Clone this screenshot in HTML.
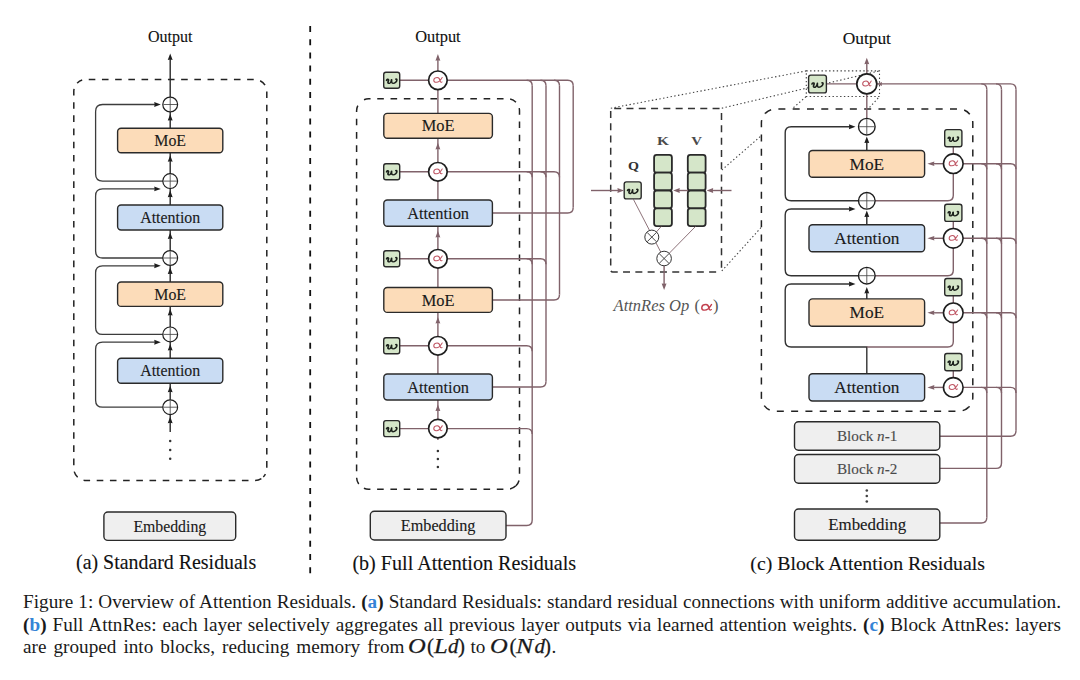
<!DOCTYPE html>
<html><head><meta charset="utf-8"><style>
html,body{margin:0;padding:0;background:#fff;}
body{width:1080px;height:680px;position:relative;overflow:hidden;font-family:"Liberation Serif", serif;}
svg{position:absolute;left:0;top:0;}
svg text{font-family:"Liberation Serif", serif;stroke-width:0.12px;}
.cap{position:absolute;left:23.1px;width:1037.9px;font-size:19.2px;line-height:22.4px;color:#1a1a1a;white-space:nowrap;}
.j{text-align:justify;text-align-last:justify;white-space:nowrap;}
.b{font-weight:bold;}
.bl{color:#3584d6;font-weight:bold;}
.m{font-style:italic;}
.mm{top:634.9px;font-size:21px;-webkit-text-stroke:0.25px #1a1a1a;}
.mo{font-size:21px;top:634.9px;transform:scaleX(1.17);transform-origin:left;}
</style></head><body>
<svg width="1080" height="680" viewBox="0 0 1080 680">
<path d="M 77.31 83.01 A 12 12 0 0 1 85.80 79.50 H 254.80 A 12 12 0 0 1 266.80 91.50 V 468.50 A 12 12 0 0 1 263.29 476.99" fill="none" stroke="#222" stroke-width="1.5" stroke-dasharray="6.6 6.6" stroke-dashoffset="0.9"/>
<path d="M 77.31 83.01 A 12 12 0 0 0 73.80 91.50 V 468.50 A 12 12 0 0 0 85.80 480.50 H 254.80 A 12 12 0 0 0 263.29 476.99" fill="none" stroke="#222" stroke-width="1.5" stroke-dasharray="6.6 6.6" stroke-dashoffset="6.4"/>
<text x="170.2" y="41.7" font-size="16" text-anchor="middle" fill="#111" stroke="#111" >Output</text>
<line x1="170.2" y1="57" x2="170.2" y2="432" stroke="#2a2a2a" stroke-width="1.4" />
<polygon points="170.20,53.40 167.75,60.00 170.20,59.54 172.65,60.00" fill="#1e1e1e" stroke="none"/>
<polygon points="170.20,114.00 167.75,120.60 170.20,120.14 172.65,120.60" fill="#1e1e1e" stroke="none"/>
<polygon points="170.20,190.60 167.75,197.20 170.20,196.74 172.65,197.20" fill="#1e1e1e" stroke="none"/>
<polygon points="170.20,267.50 167.75,274.10 170.20,273.64 172.65,274.10" fill="#1e1e1e" stroke="none"/>
<polygon points="170.20,343.90 167.75,350.50 170.20,350.04 172.65,350.50" fill="#1e1e1e" stroke="none"/>
<polygon points="170.20,416.70 167.75,423.30 170.20,422.84 172.65,423.30" fill="#1e1e1e" stroke="none"/>
<polygon points="170.20,155.20 167.75,161.80 170.20,161.34 172.65,161.80" fill="#1e1e1e" stroke="none"/>
<polygon points="170.20,232.40 167.75,239.00 170.20,238.54 172.65,239.00" fill="#1e1e1e" stroke="none"/>
<polygon points="170.20,308.80 167.75,315.40 170.20,314.94 172.65,315.40" fill="#1e1e1e" stroke="none"/>
<polygon points="170.20,385.70 167.75,392.30 170.20,391.84 172.65,392.30" fill="#1e1e1e" stroke="none"/>
<path d="M 170.2 181.1 H 102.6 Q 95.6 181.1 95.6 174.1 V 111.5 Q 95.6 104.5 102.6 104.5 H 157" stroke="#3c3c3c" stroke-width="1.3" fill="none" />
<polygon points="160.80,104.50 154.20,102.05 154.66,104.50 154.20,106.95" fill="#1e1e1e" stroke="none"/>
<path d="M 170.2 258.0 H 102.6 Q 95.6 258.0 95.6 251.0 V 195.9 Q 95.6 188.9 102.6 188.9 H 157" stroke="#3c3c3c" stroke-width="1.3" fill="none" />
<polygon points="160.80,188.90 154.20,186.45 154.66,188.90 154.20,191.35" fill="#1e1e1e" stroke="none"/>
<path d="M 170.2 334.4 H 102.6 Q 95.6 334.4 95.6 327.4 V 272.8 Q 95.6 265.8 102.6 265.8 H 157" stroke="#3c3c3c" stroke-width="1.3" fill="none" />
<polygon points="160.80,265.80 154.20,263.35 154.66,265.80 154.20,268.25" fill="#1e1e1e" stroke="none"/>
<path d="M 170.2 407.2 H 102.6 Q 95.6 407.2 95.6 400.2 V 349.2 Q 95.6 342.2 102.6 342.2 H 157" stroke="#3c3c3c" stroke-width="1.3" fill="none" />
<polygon points="160.80,342.20 154.20,339.75 154.66,342.20 154.20,344.65" fill="#1e1e1e" stroke="none"/>
<rect x="117.6" y="128.3" width="105.20" height="24.50" rx="3.5" fill="#fcdcb9" stroke="#2a2a2a" stroke-width="1.4"/>
<text x="170.20" y="145.96" font-size="15.9" text-anchor="middle" fill="#1a1a1a" stroke="#1a1a1a">MoE</text>
<rect x="117.6" y="205.0" width="105.20" height="25.00" rx="3.5" fill="#c9dcf3" stroke="#2a2a2a" stroke-width="1.4"/>
<text x="170.20" y="222.91" font-size="15.9" text-anchor="middle" fill="#1a1a1a" stroke="#1a1a1a">Attention</text>
<rect x="117.6" y="282.0" width="105.20" height="24.40" rx="3.5" fill="#fcdcb9" stroke="#2a2a2a" stroke-width="1.4"/>
<text x="170.20" y="299.61" font-size="15.9" text-anchor="middle" fill="#1a1a1a" stroke="#1a1a1a">MoE</text>
<rect x="117.6" y="358.3" width="105.20" height="25.00" rx="3.5" fill="#c9dcf3" stroke="#2a2a2a" stroke-width="1.4"/>
<text x="170.20" y="376.21" font-size="15.9" text-anchor="middle" fill="#1a1a1a" stroke="#1a1a1a">Attention</text>
<circle cx="170.2" cy="104.5" r="7.4" fill="#fff" stroke="#1e1e1e" stroke-width="1.2"/>
<line x1="163.39999999999998" y1="104.5" x2="177.0" y2="104.5" stroke="#444" stroke-width="0.85" />
<line x1="170.2" y1="97.7" x2="170.2" y2="111.3" stroke="#444" stroke-width="0.85" />
<circle cx="170.2" cy="181.1" r="7.4" fill="#fff" stroke="#1e1e1e" stroke-width="1.2"/>
<line x1="163.39999999999998" y1="181.1" x2="177.0" y2="181.1" stroke="#444" stroke-width="0.85" />
<line x1="170.2" y1="174.29999999999998" x2="170.2" y2="187.9" stroke="#444" stroke-width="0.85" />
<circle cx="170.2" cy="258.0" r="7.4" fill="#fff" stroke="#1e1e1e" stroke-width="1.2"/>
<line x1="163.39999999999998" y1="258.0" x2="177.0" y2="258.0" stroke="#444" stroke-width="0.85" />
<line x1="170.2" y1="251.2" x2="170.2" y2="264.8" stroke="#444" stroke-width="0.85" />
<circle cx="170.2" cy="334.4" r="7.4" fill="#fff" stroke="#1e1e1e" stroke-width="1.2"/>
<line x1="163.39999999999998" y1="334.4" x2="177.0" y2="334.4" stroke="#444" stroke-width="0.85" />
<line x1="170.2" y1="327.59999999999997" x2="170.2" y2="341.2" stroke="#444" stroke-width="0.85" />
<circle cx="170.2" cy="407.2" r="7.4" fill="#fff" stroke="#1e1e1e" stroke-width="1.2"/>
<line x1="163.39999999999998" y1="407.2" x2="177.0" y2="407.2" stroke="#444" stroke-width="0.85" />
<line x1="170.2" y1="400.4" x2="170.2" y2="414.0" stroke="#444" stroke-width="0.85" />
<circle cx="170.2" cy="441" r="1.25" fill="#333"/>
<circle cx="170.2" cy="449.9" r="1.25" fill="#333"/>
<circle cx="170.2" cy="458.7" r="1.25" fill="#333"/>
<rect x="103.9" y="512" width="131.80" height="28.40" rx="4" fill="#efefef" stroke="#2a2a2a" stroke-width="1.4"/>
<text x="169.80" y="531.57" font-size="15.8" text-anchor="middle" fill="#1a1a1a" stroke="#1a1a1a">Embedding</text>
<text x="166.1" y="569.4" font-size="19.9" text-anchor="middle" fill="#111" stroke="#111" >(a) Standard Residuals</text>
<line x1="310.2" y1="26" x2="310.2" y2="576" stroke="#111" stroke-width="1.8" stroke-dasharray="6 7.2"/>
<path d="M 360.11 102.31 A 12 12 0 0 1 368.60 98.80 H 507.50 A 12 12 0 0 1 519.50 110.80 V 477.20 A 12 12 0 0 1 515.99 485.69" fill="none" stroke="#222" stroke-width="1.5" stroke-dasharray="6.6 6.7" stroke-dashoffset="8.6"/>
<path d="M 360.11 102.31 A 12 12 0 0 0 356.60 110.80 V 477.20 A 12 12 0 0 0 368.60 489.20 H 507.50 A 12 12 0 0 0 515.99 485.69" fill="none" stroke="#222" stroke-width="1.5" stroke-dasharray="6.6 6.7" stroke-dashoffset="9.3"/>
<text x="437.9" y="42.4" font-size="16.4" text-anchor="middle" fill="#111" stroke="#111" >Output</text>
<line x1="437.9" y1="58" x2="437.9" y2="440" stroke="#80626a" stroke-width="1.4" />
<polygon points="437.90,54.10 435.45,60.70 437.90,60.24 440.35,60.70" fill="#80626a" stroke="none"/>
<polygon points="437.90,142.80 435.45,149.40 437.90,148.94 440.35,149.40" fill="#80626a" stroke="none"/>
<polygon points="437.90,230.80 435.45,237.40 437.90,236.94 440.35,237.40" fill="#80626a" stroke="none"/>
<polygon points="437.90,316.90 435.45,323.50 437.90,323.04 440.35,323.50" fill="#80626a" stroke="none"/>
<polygon points="437.90,404.50 435.45,411.10 437.90,410.64 440.35,411.10" fill="#80626a" stroke="none"/>
<line x1="532.2" y1="85.8" x2="532.2" y2="520.0" stroke="#80626a" stroke-width="1.4" />
<line x1="546.0" y1="85.8" x2="546.0" y2="381.5" stroke="#80626a" stroke-width="1.4" />
<line x1="559.5" y1="85.8" x2="559.5" y2="294.5" stroke="#80626a" stroke-width="1.4" />
<line x1="573.2" y1="85.8" x2="573.2" y2="207.5" stroke="#80626a" stroke-width="1.4" />
<path d="M 506 525.5 H 526.7 Q 532.2 525.5 532.2 520.0" stroke="#80626a" stroke-width="1.4" fill="none" />
<path d="M 492.3 387.0 H 540.5 Q 546.0 387.0 546.0 381.5" stroke="#80626a" stroke-width="1.4" fill="none" />
<path d="M 492.3 300.0 H 554.0 Q 559.5 300.0 559.5 294.5" stroke="#80626a" stroke-width="1.4" fill="none" />
<path d="M 492.5 213.0 H 567.7 Q 573.2 213.0 573.2 207.5" stroke="#80626a" stroke-width="1.4" fill="none" />
<path d="M 437.9 80.3 H 567.7 Q 573.2 80.3 573.2 85.8" stroke="#80626a" stroke-width="1.4" fill="none" />
<path d="M 526.7 80.3 Q 532.2 80.3 532.2 85.8" stroke="#80626a" stroke-width="1.4" fill="none" />
<path d="M 540.5 80.3 Q 546.0 80.3 546.0 85.8" stroke="#80626a" stroke-width="1.4" fill="none" />
<path d="M 554.0 80.3 Q 559.5 80.3 559.5 85.8" stroke="#80626a" stroke-width="1.4" fill="none" />
<line x1="399.8" y1="80.3" x2="437.9" y2="80.3" stroke="#80626a" stroke-width="1.4" />
<path d="M 437.9 171.8 H 554.0 Q 559.5 171.8 559.5 177.3" stroke="#80626a" stroke-width="1.4" fill="none" />
<path d="M 526.7 171.8 Q 532.2 171.8 532.2 177.3" stroke="#80626a" stroke-width="1.4" fill="none" />
<path d="M 540.5 171.8 Q 546.0 171.8 546.0 177.3" stroke="#80626a" stroke-width="1.4" fill="none" />
<line x1="399.8" y1="171.8" x2="437.9" y2="171.8" stroke="#80626a" stroke-width="1.4" />
<path d="M 437.9 258.8 H 540.5 Q 546.0 258.8 546.0 264.3" stroke="#80626a" stroke-width="1.4" fill="none" />
<path d="M 526.7 258.8 Q 532.2 258.8 532.2 264.3" stroke="#80626a" stroke-width="1.4" fill="none" />
<line x1="399.8" y1="258.8" x2="437.9" y2="258.8" stroke="#80626a" stroke-width="1.4" />
<path d="M 437.9 345.8 H 526.7 Q 532.2 345.8 532.2 351.3" stroke="#80626a" stroke-width="1.4" fill="none" />
<line x1="399.8" y1="345.8" x2="437.9" y2="345.8" stroke="#80626a" stroke-width="1.4" />
<path d="M 437.9 428.6 H 526.7 Q 532.2 428.6 532.2 434.1" stroke="#80626a" stroke-width="1.4" fill="none" />
<line x1="399.8" y1="428.6" x2="437.9" y2="428.6" stroke="#80626a" stroke-width="1.4" />
<rect x="383.8" y="113.4" width="108.60" height="24.90" rx="3.5" fill="#fcdcb9" stroke="#2a2a2a" stroke-width="1.4"/>
<text x="438.10" y="131.43" font-size="16.4" text-anchor="middle" fill="#1a1a1a" stroke="#1a1a1a">MoE</text>
<rect x="383.8" y="200.0" width="108.60" height="26.30" rx="3.5" fill="#c9dcf3" stroke="#2a2a2a" stroke-width="1.4"/>
<text x="438.10" y="218.73" font-size="16.4" text-anchor="middle" fill="#1a1a1a" stroke="#1a1a1a">Attention</text>
<rect x="383.8" y="287.5" width="108.60" height="24.90" rx="3.5" fill="#fcdcb9" stroke="#2a2a2a" stroke-width="1.4"/>
<text x="438.10" y="305.53" font-size="16.4" text-anchor="middle" fill="#1a1a1a" stroke="#1a1a1a">MoE</text>
<rect x="383.8" y="374.0" width="108.60" height="26.00" rx="3.5" fill="#c9dcf3" stroke="#2a2a2a" stroke-width="1.4"/>
<text x="438.10" y="392.58" font-size="16.4" text-anchor="middle" fill="#1a1a1a" stroke="#1a1a1a">Attention</text>
<circle cx="437.9" cy="80.3" r="9.3" fill="#fff" stroke="#1e1e1e" stroke-width="1.7"/>
<path d="M 4.6 -3.3 C 3.8 -0.8, 2.3 3.3, -1.2 3.3 C -3.6 3.3, -4.8 1.6, -4.8 -0.2 C -4.8 -2.2, -3.2 -3.3, -1.3 -3.3 C 1.2 -3.3, 2.0 -1.3, 2.8 1.3 C 3.2 2.6, 3.6 3.3, 4.3 3.3 C 4.7 3.3, 5.0 3.0, 5.2 2.7" transform="translate(437.90,79.90) skewX(-10) scale(0.850,0.740)" fill="none" stroke="#bf5664" stroke-width="1.31" stroke-linecap="round"/>
<rect x="383.7" y="72.3" width="16.00" height="16.00" rx="2.2" fill="#d5e6c9" stroke="#2a2a2a" stroke-width="1.4"/>
<path d="M -5.6 -1.0 C -5.2 -2.5, -3.6 -2.9, -3.4 -1.7 C -3.3 -0.9, -4.1 0.6, -4.1 1.5 C -4.1 2.7, -2.9 2.9, -2.0 2.5 C -1.0 2.0, -0.4 0.4, -0.1 -1.9 C -0.3 0.4, -0.2 2.7, 1.4 2.7 C 3.6 2.7, 5.6 0.4, 5.6 -1.6 C 5.6 -2.5, 5.0 -2.8, 4.5 -2.5" transform="translate(391.70,81.20) scale(0.920,0.800)" fill="none" stroke="#1a1f1a" stroke-width="1.80" stroke-linecap="round" stroke-linejoin="round"/>
<circle cx="437.9" cy="171.8" r="9.3" fill="#fff" stroke="#1e1e1e" stroke-width="1.7"/>
<path d="M 4.6 -3.3 C 3.8 -0.8, 2.3 3.3, -1.2 3.3 C -3.6 3.3, -4.8 1.6, -4.8 -0.2 C -4.8 -2.2, -3.2 -3.3, -1.3 -3.3 C 1.2 -3.3, 2.0 -1.3, 2.8 1.3 C 3.2 2.6, 3.6 3.3, 4.3 3.3 C 4.7 3.3, 5.0 3.0, 5.2 2.7" transform="translate(437.90,171.40) skewX(-10) scale(0.850,0.740)" fill="none" stroke="#bf5664" stroke-width="1.31" stroke-linecap="round"/>
<rect x="383.7" y="163.8" width="16.00" height="16.00" rx="2.2" fill="#d5e6c9" stroke="#2a2a2a" stroke-width="1.4"/>
<path d="M -5.6 -1.0 C -5.2 -2.5, -3.6 -2.9, -3.4 -1.7 C -3.3 -0.9, -4.1 0.6, -4.1 1.5 C -4.1 2.7, -2.9 2.9, -2.0 2.5 C -1.0 2.0, -0.4 0.4, -0.1 -1.9 C -0.3 0.4, -0.2 2.7, 1.4 2.7 C 3.6 2.7, 5.6 0.4, 5.6 -1.6 C 5.6 -2.5, 5.0 -2.8, 4.5 -2.5" transform="translate(391.70,172.70) scale(0.920,0.800)" fill="none" stroke="#1a1f1a" stroke-width="1.80" stroke-linecap="round" stroke-linejoin="round"/>
<circle cx="437.9" cy="258.8" r="9.3" fill="#fff" stroke="#1e1e1e" stroke-width="1.7"/>
<path d="M 4.6 -3.3 C 3.8 -0.8, 2.3 3.3, -1.2 3.3 C -3.6 3.3, -4.8 1.6, -4.8 -0.2 C -4.8 -2.2, -3.2 -3.3, -1.3 -3.3 C 1.2 -3.3, 2.0 -1.3, 2.8 1.3 C 3.2 2.6, 3.6 3.3, 4.3 3.3 C 4.7 3.3, 5.0 3.0, 5.2 2.7" transform="translate(437.90,258.40) skewX(-10) scale(0.850,0.740)" fill="none" stroke="#bf5664" stroke-width="1.31" stroke-linecap="round"/>
<rect x="383.7" y="250.8" width="16.00" height="16.00" rx="2.2" fill="#d5e6c9" stroke="#2a2a2a" stroke-width="1.4"/>
<path d="M -5.6 -1.0 C -5.2 -2.5, -3.6 -2.9, -3.4 -1.7 C -3.3 -0.9, -4.1 0.6, -4.1 1.5 C -4.1 2.7, -2.9 2.9, -2.0 2.5 C -1.0 2.0, -0.4 0.4, -0.1 -1.9 C -0.3 0.4, -0.2 2.7, 1.4 2.7 C 3.6 2.7, 5.6 0.4, 5.6 -1.6 C 5.6 -2.5, 5.0 -2.8, 4.5 -2.5" transform="translate(391.70,259.70) scale(0.920,0.800)" fill="none" stroke="#1a1f1a" stroke-width="1.80" stroke-linecap="round" stroke-linejoin="round"/>
<circle cx="437.9" cy="345.8" r="9.3" fill="#fff" stroke="#1e1e1e" stroke-width="1.7"/>
<path d="M 4.6 -3.3 C 3.8 -0.8, 2.3 3.3, -1.2 3.3 C -3.6 3.3, -4.8 1.6, -4.8 -0.2 C -4.8 -2.2, -3.2 -3.3, -1.3 -3.3 C 1.2 -3.3, 2.0 -1.3, 2.8 1.3 C 3.2 2.6, 3.6 3.3, 4.3 3.3 C 4.7 3.3, 5.0 3.0, 5.2 2.7" transform="translate(437.90,345.40) skewX(-10) scale(0.850,0.740)" fill="none" stroke="#bf5664" stroke-width="1.31" stroke-linecap="round"/>
<rect x="383.7" y="337.8" width="16.00" height="16.00" rx="2.2" fill="#d5e6c9" stroke="#2a2a2a" stroke-width="1.4"/>
<path d="M -5.6 -1.0 C -5.2 -2.5, -3.6 -2.9, -3.4 -1.7 C -3.3 -0.9, -4.1 0.6, -4.1 1.5 C -4.1 2.7, -2.9 2.9, -2.0 2.5 C -1.0 2.0, -0.4 0.4, -0.1 -1.9 C -0.3 0.4, -0.2 2.7, 1.4 2.7 C 3.6 2.7, 5.6 0.4, 5.6 -1.6 C 5.6 -2.5, 5.0 -2.8, 4.5 -2.5" transform="translate(391.70,346.70) scale(0.920,0.800)" fill="none" stroke="#1a1f1a" stroke-width="1.80" stroke-linecap="round" stroke-linejoin="round"/>
<circle cx="437.9" cy="428.6" r="9.3" fill="#fff" stroke="#1e1e1e" stroke-width="1.7"/>
<path d="M 4.6 -3.3 C 3.8 -0.8, 2.3 3.3, -1.2 3.3 C -3.6 3.3, -4.8 1.6, -4.8 -0.2 C -4.8 -2.2, -3.2 -3.3, -1.3 -3.3 C 1.2 -3.3, 2.0 -1.3, 2.8 1.3 C 3.2 2.6, 3.6 3.3, 4.3 3.3 C 4.7 3.3, 5.0 3.0, 5.2 2.7" transform="translate(437.90,428.20) skewX(-10) scale(0.850,0.740)" fill="none" stroke="#bf5664" stroke-width="1.31" stroke-linecap="round"/>
<rect x="383.7" y="420.6" width="16.00" height="16.00" rx="2.2" fill="#d5e6c9" stroke="#2a2a2a" stroke-width="1.4"/>
<path d="M -5.6 -1.0 C -5.2 -2.5, -3.6 -2.9, -3.4 -1.7 C -3.3 -0.9, -4.1 0.6, -4.1 1.5 C -4.1 2.7, -2.9 2.9, -2.0 2.5 C -1.0 2.0, -0.4 0.4, -0.1 -1.9 C -0.3 0.4, -0.2 2.7, 1.4 2.7 C 3.6 2.7, 5.6 0.4, 5.6 -1.6 C 5.6 -2.5, 5.0 -2.8, 4.5 -2.5" transform="translate(391.70,429.50) scale(0.920,0.800)" fill="none" stroke="#1a1f1a" stroke-width="1.80" stroke-linecap="round" stroke-linejoin="round"/>
<circle cx="437.9" cy="451" r="1.25" fill="#333"/>
<circle cx="437.9" cy="459" r="1.25" fill="#333"/>
<circle cx="437.9" cy="467" r="1.25" fill="#333"/>
<rect x="370.3" y="511.3" width="135.70" height="28.70" rx="4" fill="#efefef" stroke="#2a2a2a" stroke-width="1.4"/>
<text x="438.15" y="531.16" font-size="16.2" text-anchor="middle" fill="#1a1a1a" stroke="#1a1a1a">Embedding</text>
<text x="464.3" y="569.8" font-size="20.1" text-anchor="middle" fill="#111" stroke="#111" >(b) Full Attention Residuals</text>
<path d="M 611.29 109.09 A 2 2 0 0 1 612.70 108.50 H 719.50 A 2 2 0 0 1 721.50 110.50 V 270.00 A 2 2 0 0 1 720.91 271.41" fill="none" stroke="#333" stroke-width="1.5" stroke-dasharray="7.0 5.3" stroke-dashoffset="9.3"/>
<path d="M 611.29 109.09 A 2 2 0 0 0 610.70 110.50 V 270.00 A 2 2 0 0 0 612.70 272.00 H 719.50 A 2 2 0 0 0 720.91 271.41" fill="none" stroke="#333" stroke-width="1.5" stroke-dasharray="7.0 5.3" stroke-dashoffset="10.3"/>
<rect x="654.1" y="154.9" width="17.80" height="17.80" rx="2.5" fill="#d5e6c9" stroke="#2a2a2a" stroke-width="1.8"/>
<rect x="654.1" y="172.70000000000002" width="17.80" height="17.80" rx="2.5" fill="#d5e6c9" stroke="#2a2a2a" stroke-width="1.8"/>
<rect x="654.1" y="190.5" width="17.80" height="17.80" rx="2.5" fill="#d5e6c9" stroke="#2a2a2a" stroke-width="1.8"/>
<rect x="654.1" y="208.3" width="17.80" height="17.80" rx="2.5" fill="#d5e6c9" stroke="#2a2a2a" stroke-width="1.8"/>
<rect x="687.8" y="154.9" width="17.80" height="17.80" rx="2.5" fill="#d5e6c9" stroke="#2a2a2a" stroke-width="1.8"/>
<rect x="687.8" y="172.70000000000002" width="17.80" height="17.80" rx="2.5" fill="#d5e6c9" stroke="#2a2a2a" stroke-width="1.8"/>
<rect x="687.8" y="190.5" width="17.80" height="17.80" rx="2.5" fill="#d5e6c9" stroke="#2a2a2a" stroke-width="1.8"/>
<rect x="687.8" y="208.3" width="17.80" height="17.80" rx="2.5" fill="#d5e6c9" stroke="#2a2a2a" stroke-width="1.8"/>
<text x="0" y="0" transform="translate(663.1,145.1) scale(1.22,1)" font-size="12.6" font-weight="bold" text-anchor="middle" fill="#4a4a4a">K</text>
<text x="0" y="0" transform="translate(696.6,145.1) scale(1.18,1)" font-size="12.6" font-weight="bold" text-anchor="middle" fill="#4a4a4a">V</text>
<text x="0" y="0" transform="translate(633.4,169.6) scale(1.12,1)" font-size="12.6" font-weight="bold" text-anchor="middle" fill="#333">Q</text>
<line x1="633.5" y1="199.5" x2="664.1" y2="258.5" stroke="#80626a" stroke-width="0.9" />
<line x1="661.2" y1="226.5" x2="651.8" y2="237.1" stroke="#80626a" stroke-width="0.9" />
<line x1="695.5" y1="226.5" x2="664.1" y2="258.5" stroke="#80626a" stroke-width="0.9" />
<circle cx="651.8" cy="237.1" r="7.0" fill="#fff" stroke="#333" stroke-width="1.0"/>
<line x1="647.20385" y1="232.50385" x2="656.3961499999999" y2="241.69615" stroke="#333" stroke-width="0.9" />
<line x1="647.20385" y1="241.69615" x2="656.3961499999999" y2="232.50385" stroke="#333" stroke-width="0.9" />
<circle cx="664.1" cy="258.5" r="7.3" fill="#fff" stroke="#333" stroke-width="1.0"/>
<line x1="659.29172" y1="253.69172" x2="668.90828" y2="263.30828" stroke="#333" stroke-width="0.9" />
<line x1="659.29172" y1="263.30828" x2="668.90828" y2="253.69172" stroke="#333" stroke-width="0.9" />
<rect x="624.2" y="181.9" width="17.00" height="17.00" rx="2.2" fill="#d5e6c9" stroke="#2a2a2a" stroke-width="1.4"/>
<path d="M -5.6 -1.0 C -5.2 -2.5, -3.6 -2.9, -3.4 -1.7 C -3.3 -0.9, -4.1 0.6, -4.1 1.5 C -4.1 2.7, -2.9 2.9, -2.0 2.5 C -1.0 2.0, -0.4 0.4, -0.1 -1.9 C -0.3 0.4, -0.2 2.7, 1.4 2.7 C 3.6 2.7, 5.6 0.4, 5.6 -1.6 C 5.6 -2.5, 5.0 -2.8, 4.5 -2.5" transform="translate(632.70,191.30) scale(0.920,0.800)" fill="none" stroke="#1a1f1a" stroke-width="1.80" stroke-linecap="round" stroke-linejoin="round"/>
<line x1="591" y1="190.5" x2="619" y2="190.5" stroke="#80626a" stroke-width="1.4" />
<polygon points="624.00,190.50 617.40,188.05 617.86,190.50 617.40,192.95" fill="#80626a" stroke="none"/>
<line x1="688" y1="190.5" x2="678" y2="190.5" stroke="#80626a" stroke-width="1.4" />
<polygon points="673.20,190.50 679.80,188.05 679.34,190.50 679.80,192.95" fill="#80626a" stroke="none"/>
<line x1="731.5" y1="190.5" x2="712" y2="190.5" stroke="#80626a" stroke-width="1.4" />
<polygon points="706.60,190.50 713.20,188.05 712.74,190.50 713.20,192.95" fill="#80626a" stroke="none"/>
<line x1="664.1" y1="266" x2="664.1" y2="284" stroke="#80626a" stroke-width="1.4" />
<polygon points="664.10,290.00 661.65,283.40 664.10,283.86 666.55,283.40" fill="#80626a" stroke="none"/>
<text x="613.6" y="311.4" font-size="16.5" font-style="italic" text-anchor="start" fill="#555">AttnRes Op</text>
<text x="694.6" y="311.4" font-size="16.5" text-anchor="start" fill="#555">(</text>
<text x="718.5" y="311.4" font-size="16.5" text-anchor="end" fill="#555">)</text>
<path d="M 4.6 -3.3 C 3.8 -0.8, 2.3 3.3, -1.2 3.3 C -3.6 3.3, -4.8 1.6, -4.8 -0.2 C -4.8 -2.2, -3.2 -3.3, -1.3 -3.3 C 1.2 -3.3, 2.0 -1.3, 2.8 1.3 C 3.2 2.6, 3.6 3.3, 4.3 3.3 C 4.7 3.3, 5.0 3.0, 5.2 2.7" transform="translate(706.50,307.30) skewX(-10) scale(0.977,0.851)" fill="none" stroke="#c2404e" stroke-width="1.52" stroke-linecap="round"/>
<line x1="610.8" y1="108.2" x2="806.3" y2="70.9" stroke="#444" stroke-width="1.1" stroke-dasharray="1.4 2.4"/>
<line x1="721.8" y1="108.2" x2="879.5" y2="70.9" stroke="#444" stroke-width="1.1" stroke-dasharray="1.4 2.4"/>
<line x1="721.8" y1="170" x2="806.3" y2="96.5" stroke="#444" stroke-width="1.1" stroke-dasharray="1.4 2.4"/>
<line x1="721.8" y1="271" x2="879.5" y2="96.5" stroke="#444" stroke-width="1.1" stroke-dasharray="1.4 2.4"/>
<rect x="806.3" y="70.9" width="73.2" height="25.6" fill="none" stroke="#444" stroke-width="1.1" stroke-dasharray="1.4 2.4"/>
<rect x="761.4" y="109" width="211.4" height="302" rx="14" fill="#fff"/>
<path d="M 765.50 113.10 A 14 14 0 0 1 775.40 109.00 H 958.80 A 14 14 0 0 1 972.80 123.00 V 397.20 A 14 14 0 0 1 968.70 407.10" fill="none" stroke="#222" stroke-width="1.5" stroke-dasharray="7.0 7.3" stroke-dashoffset="0.4"/>
<path d="M 765.50 113.10 A 14 14 0 0 0 761.40 123.00 V 397.20 A 14 14 0 0 0 775.40 411.20 H 958.80 A 14 14 0 0 0 968.70 407.10" fill="none" stroke="#222" stroke-width="1.5" stroke-dasharray="7.0 7.3" stroke-dashoffset="6.2"/>
<text x="866.8" y="43.8" font-size="17.4" text-anchor="middle" fill="#111" stroke="#111" >Output</text>
<line x1="866.8" y1="62" x2="866.8" y2="118" stroke="#80626a" stroke-width="1.4" />
<polygon points="866.80,57.70 864.35,64.30 866.80,63.84 869.25,64.30" fill="#80626a" stroke="none"/>
<line x1="986.8" y1="89.4" x2="986.8" y2="517.5" stroke="#80626a" stroke-width="1.4" />
<line x1="1001.5" y1="89.4" x2="1001.5" y2="462.9" stroke="#80626a" stroke-width="1.4" />
<line x1="1016.0" y1="89.4" x2="1016.0" y2="430.8" stroke="#80626a" stroke-width="1.4" />
<path d="M 939.8 523.0 H 981.3 Q 986.8 523.0 986.8 517.5" stroke="#80626a" stroke-width="1.4" fill="none" />
<path d="M 939.8 468.4 H 996.0 Q 1001.5 468.4 1001.5 462.9" stroke="#80626a" stroke-width="1.4" fill="none" />
<path d="M 939.8 436.3 H 1010.5 Q 1016.0 436.3 1016.0 430.8" stroke="#80626a" stroke-width="1.4" fill="none" />
<path d="M 866.8 83.9 H 1010.5 Q 1016.0 83.9 1016.0 89.4" stroke="#80626a" stroke-width="1.4" fill="none" />
<path d="M 981.3 83.9 Q 986.8 83.9 986.8 89.4" stroke="#80626a" stroke-width="1.4" fill="none" />
<path d="M 996.0 83.9 Q 1001.5 83.9 1001.5 89.4" stroke="#80626a" stroke-width="1.4" fill="none" />
<path d="M 953.3 163.7 H 1010.5 Q 1016.0 163.7 1016.0 169.2" stroke="#80626a" stroke-width="1.4" fill="none" />
<path d="M 981.3 163.7 Q 986.8 163.7 986.8 169.2" stroke="#80626a" stroke-width="1.4" fill="none" />
<path d="M 996.0 163.7 Q 1001.5 163.7 1001.5 169.2" stroke="#80626a" stroke-width="1.4" fill="none" />
<path d="M 953.3 238.3 H 1010.5 Q 1016.0 238.3 1016.0 243.8" stroke="#80626a" stroke-width="1.4" fill="none" />
<path d="M 981.3 238.3 Q 986.8 238.3 986.8 243.8" stroke="#80626a" stroke-width="1.4" fill="none" />
<path d="M 996.0 238.3 Q 1001.5 238.3 1001.5 243.8" stroke="#80626a" stroke-width="1.4" fill="none" />
<path d="M 953.3 312.8 H 1010.5 Q 1016.0 312.8 1016.0 318.3" stroke="#80626a" stroke-width="1.4" fill="none" />
<path d="M 981.3 312.8 Q 986.8 312.8 986.8 318.3" stroke="#80626a" stroke-width="1.4" fill="none" />
<path d="M 996.0 312.8 Q 1001.5 312.8 1001.5 318.3" stroke="#80626a" stroke-width="1.4" fill="none" />
<path d="M 953.3 387.4 H 1010.5 Q 1016.0 387.4 1016.0 392.9" stroke="#80626a" stroke-width="1.4" fill="none" />
<path d="M 981.3 387.4 Q 986.8 387.4 986.8 392.9" stroke="#80626a" stroke-width="1.4" fill="none" />
<path d="M 996.0 387.4 Q 1001.5 387.4 1001.5 392.9" stroke="#80626a" stroke-width="1.4" fill="none" />
<line x1="826" y1="83.9" x2="866.8" y2="83.9" stroke="#80626a" stroke-width="1.4" />
<polygon points="877.50,83.90 882.00,81.90 881.68,83.90 882.00,85.90" fill="#80626a" stroke="none"/>
<path d="M 866.8 200.8 H 791.2 Q 785.2 200.8 785.2 194.8 V 132.7 Q 785.2 126.7 791.2 126.7 H 851" stroke="#333" stroke-width="1.4" fill="none" />
<polygon points="855.50,126.70 848.90,124.25 849.36,126.70 848.90,129.15" fill="#1e1e1e" stroke="none"/>
<path d="M 866.8 275.7 H 791.2 Q 785.2 275.7 785.2 269.7 V 215 Q 785.2 209 791.2 209 H 851" stroke="#333" stroke-width="1.4" fill="none" />
<polygon points="855.50,209.00 848.90,206.55 849.36,209.00 848.90,211.45" fill="#1e1e1e" stroke="none"/>
<path d="M 866.8 373.7 V 347 H 791.2 Q 785.2 347 785.2 341 V 290 Q 785.2 284 791.2 284 H 851" stroke="#333" stroke-width="1.4" fill="none" />
<polygon points="855.50,284.00 848.90,281.55 849.36,284.00 848.90,286.45" fill="#1e1e1e" stroke="none"/>
<line x1="866.8" y1="150.5" x2="866.8" y2="140" stroke="#2a2a2a" stroke-width="1.4" />
<polygon points="866.80,136.50 864.35,143.10 866.80,142.64 869.25,143.10" fill="#1e1e1e" stroke="none"/>
<line x1="866.8" y1="224.7" x2="866.8" y2="214" stroke="#2a2a2a" stroke-width="1.4" />
<polygon points="866.80,210.50 864.35,217.10 866.80,216.64 869.25,217.10" fill="#1e1e1e" stroke="none"/>
<line x1="866.8" y1="298.9" x2="866.8" y2="290" stroke="#2a2a2a" stroke-width="1.4" />
<polygon points="866.80,286.90 864.35,293.50 866.80,293.04 869.25,293.50" fill="#1e1e1e" stroke="none"/>
<path d="M 874.8 200.8 H 947.8 Q 953.3 200.8 953.3 195.3 V 163.7" stroke="#80626a" stroke-width="1.4" fill="none" />
<path d="M 874.8 275.7 H 947.8 Q 953.3 275.7 953.3 270.2 V 238.3" stroke="#80626a" stroke-width="1.4" fill="none" />
<path d="M 866.8 347 H 947.8 Q 953.3 347 953.3 341.5 V 312.8" stroke="#80626a" stroke-width="1.4" fill="none" />
<line x1="934" y1="163.7" x2="953.3" y2="163.7" stroke="#80626a" stroke-width="1.4" />
<polygon points="927.40,163.70 934.40,161.40 933.91,163.70 934.40,166.00" fill="#80626a" stroke="none"/>
<line x1="953.3" y1="138.2" x2="953.3" y2="163.7" stroke="#80626a" stroke-width="1.4" />
<line x1="934" y1="238.3" x2="953.3" y2="238.3" stroke="#80626a" stroke-width="1.4" />
<polygon points="927.40,238.30 934.40,236.00 933.91,238.30 934.40,240.60" fill="#80626a" stroke="none"/>
<line x1="953.3" y1="212.8" x2="953.3" y2="238.3" stroke="#80626a" stroke-width="1.4" />
<line x1="934" y1="312.8" x2="953.3" y2="312.8" stroke="#80626a" stroke-width="1.4" />
<polygon points="927.40,312.80 934.40,310.50 933.91,312.80 934.40,315.10" fill="#80626a" stroke="none"/>
<line x1="953.3" y1="287.1" x2="953.3" y2="312.8" stroke="#80626a" stroke-width="1.4" />
<line x1="934" y1="387.4" x2="953.3" y2="387.4" stroke="#80626a" stroke-width="1.4" />
<polygon points="927.40,387.40 934.40,385.10 933.91,387.40 934.40,389.70" fill="#80626a" stroke="none"/>
<line x1="953.3" y1="362.1" x2="953.3" y2="387.4" stroke="#80626a" stroke-width="1.4" />
<rect x="809.0" y="150.5" width="115.60" height="26.80" rx="3.5" fill="#fcdcb9" stroke="#2a2a2a" stroke-width="1.4"/>
<text x="866.80" y="169.78" font-size="17.3" text-anchor="middle" fill="#1a1a1a" stroke="#1a1a1a">MoE</text>
<rect x="809.0" y="224.7" width="115.60" height="27.10" rx="3.5" fill="#c9dcf3" stroke="#2a2a2a" stroke-width="1.4"/>
<text x="866.80" y="244.13" font-size="17.3" text-anchor="middle" fill="#1a1a1a" stroke="#1a1a1a">Attention</text>
<rect x="809.0" y="298.9" width="115.60" height="27.40" rx="3.5" fill="#fcdcb9" stroke="#2a2a2a" stroke-width="1.4"/>
<text x="866.80" y="318.48" font-size="17.3" text-anchor="middle" fill="#1a1a1a" stroke="#1a1a1a">MoE</text>
<rect x="809.0" y="373.7" width="115.60" height="27.30" rx="3.5" fill="#c9dcf3" stroke="#2a2a2a" stroke-width="1.4"/>
<text x="866.80" y="393.23" font-size="17.3" text-anchor="middle" fill="#1a1a1a" stroke="#1a1a1a">Attention</text>
<circle cx="866.8" cy="126.7" r="8.3" fill="#fff" stroke="#1e1e1e" stroke-width="1.4"/>
<line x1="859.0999999999999" y1="126.7" x2="874.5" y2="126.7" stroke="#444" stroke-width="0.85" />
<line x1="866.8" y1="119.0" x2="866.8" y2="134.4" stroke="#444" stroke-width="0.85" />
<circle cx="866.8" cy="200.8" r="8.3" fill="#fff" stroke="#1e1e1e" stroke-width="1.4"/>
<line x1="859.0999999999999" y1="200.8" x2="874.5" y2="200.8" stroke="#444" stroke-width="0.85" />
<line x1="866.8" y1="193.10000000000002" x2="866.8" y2="208.5" stroke="#444" stroke-width="0.85" />
<circle cx="866.8" cy="275.7" r="8.3" fill="#fff" stroke="#1e1e1e" stroke-width="1.4"/>
<line x1="859.0999999999999" y1="275.7" x2="874.5" y2="275.7" stroke="#444" stroke-width="0.85" />
<line x1="866.8" y1="268.0" x2="866.8" y2="283.4" stroke="#444" stroke-width="0.85" />
<circle cx="953.3" cy="163.7" r="9.8" fill="#fff" stroke="#1e1e1e" stroke-width="1.6"/>
<path d="M 4.6 -3.3 C 3.8 -0.8, 2.3 3.3, -1.2 3.3 C -3.6 3.3, -4.8 1.6, -4.8 -0.2 C -4.8 -2.2, -3.2 -3.3, -1.3 -3.3 C 1.2 -3.3, 2.0 -1.3, 2.8 1.3 C 3.2 2.6, 3.6 3.3, 4.3 3.3 C 4.7 3.3, 5.0 3.0, 5.2 2.7" transform="translate(953.30,163.30) skewX(-10) scale(0.850,0.740)" fill="none" stroke="#bf5664" stroke-width="1.31" stroke-linecap="round"/>
<rect x="944.6999999999999" y="129.6" width="17.20" height="17.20" rx="2.2" fill="#d5e6c9" stroke="#2a2a2a" stroke-width="1.4"/>
<path d="M -5.6 -1.0 C -5.2 -2.5, -3.6 -2.9, -3.4 -1.7 C -3.3 -0.9, -4.1 0.6, -4.1 1.5 C -4.1 2.7, -2.9 2.9, -2.0 2.5 C -1.0 2.0, -0.4 0.4, -0.1 -1.9 C -0.3 0.4, -0.2 2.7, 1.4 2.7 C 3.6 2.7, 5.6 0.4, 5.6 -1.6 C 5.6 -2.5, 5.0 -2.8, 4.5 -2.5" transform="translate(953.30,139.10) scale(0.920,0.800)" fill="none" stroke="#1a1f1a" stroke-width="1.80" stroke-linecap="round" stroke-linejoin="round"/>
<circle cx="953.3" cy="238.3" r="9.8" fill="#fff" stroke="#1e1e1e" stroke-width="1.6"/>
<path d="M 4.6 -3.3 C 3.8 -0.8, 2.3 3.3, -1.2 3.3 C -3.6 3.3, -4.8 1.6, -4.8 -0.2 C -4.8 -2.2, -3.2 -3.3, -1.3 -3.3 C 1.2 -3.3, 2.0 -1.3, 2.8 1.3 C 3.2 2.6, 3.6 3.3, 4.3 3.3 C 4.7 3.3, 5.0 3.0, 5.2 2.7" transform="translate(953.30,237.90) skewX(-10) scale(0.850,0.740)" fill="none" stroke="#bf5664" stroke-width="1.31" stroke-linecap="round"/>
<rect x="944.6999999999999" y="204.20000000000002" width="17.20" height="17.20" rx="2.2" fill="#d5e6c9" stroke="#2a2a2a" stroke-width="1.4"/>
<path d="M -5.6 -1.0 C -5.2 -2.5, -3.6 -2.9, -3.4 -1.7 C -3.3 -0.9, -4.1 0.6, -4.1 1.5 C -4.1 2.7, -2.9 2.9, -2.0 2.5 C -1.0 2.0, -0.4 0.4, -0.1 -1.9 C -0.3 0.4, -0.2 2.7, 1.4 2.7 C 3.6 2.7, 5.6 0.4, 5.6 -1.6 C 5.6 -2.5, 5.0 -2.8, 4.5 -2.5" transform="translate(953.30,213.70) scale(0.920,0.800)" fill="none" stroke="#1a1f1a" stroke-width="1.80" stroke-linecap="round" stroke-linejoin="round"/>
<circle cx="953.3" cy="312.8" r="9.8" fill="#fff" stroke="#1e1e1e" stroke-width="1.6"/>
<path d="M 4.6 -3.3 C 3.8 -0.8, 2.3 3.3, -1.2 3.3 C -3.6 3.3, -4.8 1.6, -4.8 -0.2 C -4.8 -2.2, -3.2 -3.3, -1.3 -3.3 C 1.2 -3.3, 2.0 -1.3, 2.8 1.3 C 3.2 2.6, 3.6 3.3, 4.3 3.3 C 4.7 3.3, 5.0 3.0, 5.2 2.7" transform="translate(953.30,312.40) skewX(-10) scale(0.850,0.740)" fill="none" stroke="#bf5664" stroke-width="1.31" stroke-linecap="round"/>
<rect x="944.6999999999999" y="278.5" width="17.20" height="17.20" rx="2.2" fill="#d5e6c9" stroke="#2a2a2a" stroke-width="1.4"/>
<path d="M -5.6 -1.0 C -5.2 -2.5, -3.6 -2.9, -3.4 -1.7 C -3.3 -0.9, -4.1 0.6, -4.1 1.5 C -4.1 2.7, -2.9 2.9, -2.0 2.5 C -1.0 2.0, -0.4 0.4, -0.1 -1.9 C -0.3 0.4, -0.2 2.7, 1.4 2.7 C 3.6 2.7, 5.6 0.4, 5.6 -1.6 C 5.6 -2.5, 5.0 -2.8, 4.5 -2.5" transform="translate(953.30,288.00) scale(0.920,0.800)" fill="none" stroke="#1a1f1a" stroke-width="1.80" stroke-linecap="round" stroke-linejoin="round"/>
<circle cx="953.3" cy="387.4" r="9.8" fill="#fff" stroke="#1e1e1e" stroke-width="1.6"/>
<path d="M 4.6 -3.3 C 3.8 -0.8, 2.3 3.3, -1.2 3.3 C -3.6 3.3, -4.8 1.6, -4.8 -0.2 C -4.8 -2.2, -3.2 -3.3, -1.3 -3.3 C 1.2 -3.3, 2.0 -1.3, 2.8 1.3 C 3.2 2.6, 3.6 3.3, 4.3 3.3 C 4.7 3.3, 5.0 3.0, 5.2 2.7" transform="translate(953.30,387.00) skewX(-10) scale(0.850,0.740)" fill="none" stroke="#bf5664" stroke-width="1.31" stroke-linecap="round"/>
<rect x="944.6999999999999" y="353.5" width="17.20" height="17.20" rx="2.2" fill="#d5e6c9" stroke="#2a2a2a" stroke-width="1.4"/>
<path d="M -5.6 -1.0 C -5.2 -2.5, -3.6 -2.9, -3.4 -1.7 C -3.3 -0.9, -4.1 0.6, -4.1 1.5 C -4.1 2.7, -2.9 2.9, -2.0 2.5 C -1.0 2.0, -0.4 0.4, -0.1 -1.9 C -0.3 0.4, -0.2 2.7, 1.4 2.7 C 3.6 2.7, 5.6 0.4, 5.6 -1.6 C 5.6 -2.5, 5.0 -2.8, 4.5 -2.5" transform="translate(953.30,363.00) scale(0.920,0.800)" fill="none" stroke="#1a1f1a" stroke-width="1.80" stroke-linecap="round" stroke-linejoin="round"/>
<circle cx="866.8" cy="83.9" r="10.0" fill="#fff" stroke="#1e1e1e" stroke-width="1.7"/>
<path d="M 4.6 -3.3 C 3.8 -0.8, 2.3 3.3, -1.2 3.3 C -3.6 3.3, -4.8 1.6, -4.8 -0.2 C -4.8 -2.2, -3.2 -3.3, -1.3 -3.3 C 1.2 -3.3, 2.0 -1.3, 2.8 1.3 C 3.2 2.6, 3.6 3.3, 4.3 3.3 C 4.7 3.3, 5.0 3.0, 5.2 2.7" transform="translate(866.80,83.50) skewX(-10) scale(0.850,0.740)" fill="none" stroke="#bf5664" stroke-width="1.31" stroke-linecap="round"/>
<rect x="808.6" y="75.1" width="17.80" height="17.80" rx="2.2" fill="#d5e6c9" stroke="#2a2a2a" stroke-width="1.4"/>
<path d="M -5.6 -1.0 C -5.2 -2.5, -3.6 -2.9, -3.4 -1.7 C -3.3 -0.9, -4.1 0.6, -4.1 1.5 C -4.1 2.7, -2.9 2.9, -2.0 2.5 C -1.0 2.0, -0.4 0.4, -0.1 -1.9 C -0.3 0.4, -0.2 2.7, 1.4 2.7 C 3.6 2.7, 5.6 0.4, 5.6 -1.6 C 5.6 -2.5, 5.0 -2.8, 4.5 -2.5" transform="translate(817.50,84.97) scale(0.991,0.862)" fill="none" stroke="#1a1f1a" stroke-width="1.67" stroke-linecap="round" stroke-linejoin="round"/>
<rect x="794.5" y="421.8" width="145.30" height="28.50" rx="4" fill="#efefef" stroke="#2a2a2a" stroke-width="1.4"/>
<text x="867.15" y="441.22" font-size="15.2" text-anchor="middle" fill="#4a4a4a" stroke="#4a4a4a">Block <tspan font-style="italic">n</tspan>-1</text>
<rect x="794.5" y="454.5" width="145.30" height="28.70" rx="4" fill="#efefef" stroke="#2a2a2a" stroke-width="1.4"/>
<text x="867.15" y="474.02" font-size="15.2" text-anchor="middle" fill="#4a4a4a" stroke="#4a4a4a">Block <tspan font-style="italic">n</tspan>-2</text>
<circle cx="866.8" cy="490.5" r="1.3" fill="#444"/>
<circle cx="866.8" cy="496" r="1.3" fill="#444"/>
<circle cx="866.8" cy="501.5" r="1.3" fill="#444"/>
<rect x="794.5" y="509.0" width="145.30" height="31.20" rx="4" fill="#efefef" stroke="#2a2a2a" stroke-width="1.4"/>
<text x="867.15" y="530.35" font-size="16.9" text-anchor="middle" fill="#1a1a1a" stroke="#1a1a1a">Embedding</text>
<text x="867.6" y="569.8" font-size="19.8" text-anchor="middle" fill="#111" stroke="#111" >(c) Block Attention Residuals</text>
</svg>
<div class="cap j" style="top:590.9px;">Figure 1: Overview of Attention Residuals. <span class="b">(<span class="bl">a</span>)</span> Standard Residuals: standard residual connections with uniform additive accumulation.</div>
<div class="cap j" style="top:613.5px;"><span class="b">(<span class="bl">b</span>)</span> Full AttnRes: each layer selectively aggregates all previous layer outputs via learned attention weights. <span class="b">(<span class="bl">c</span>)</span> Block AttnRes: layers</div>
<div class="cap" style="top:635.5px;word-spacing:2.2px;">are grouped into blocks, reducing memory from</div>
<div class="cap mm mo" style="left:407.5px;"><span class="m">O</span></div>
<div class="cap mm" style="left:427px;">(</div>
<div class="cap mm mo" style="left:434px;"><span class="m">L</span></div>
<div class="cap mm" style="left:448px;"><span class="m">d</span></div>
<div class="cap mm" style="left:458px;">)</div>
<div class="cap" style="top:635.5px;left:470.5px;">to</div>
<div class="cap mm mo" style="left:490px;"><span class="m">O</span></div>
<div class="cap mm" style="left:509.5px;">(</div>
<div class="cap mm mo" style="left:516px;transform:scaleX(1.22);"><span class="m">N</span></div>
<div class="cap mm" style="left:534.5px;"><span class="m">d</span></div>
<div class="cap mm" style="left:544px;">)</div>
<div class="cap" style="top:635.5px;left:551.5px;">.</div>
</body></html>
